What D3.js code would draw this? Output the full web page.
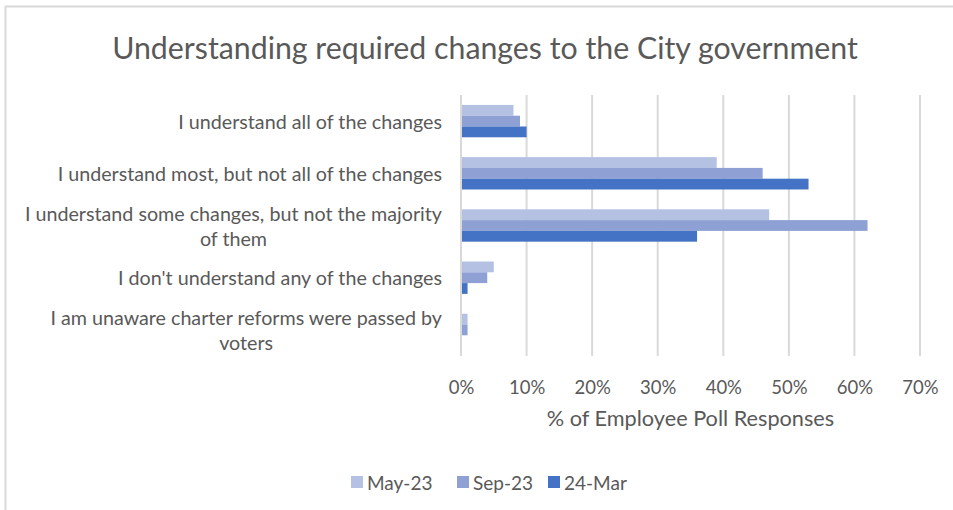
<!DOCTYPE html>
<html>
<head>
<meta charset="utf-8">
<script src="https://cdn.jsdelivr.net/npm/d3@7"></script>
<style>
  body { margin: 0; background: #fff; }
  text { font-family: Lato, "Open Sans", sans-serif; fill: #595959; }
</style>
</head>
<body>
<svg id="canvas" width="953" height="510"></svg>
<script>
// chart data
let categories = [
    ["I understand all of the changes"],
    ["I understand most, but not all of the changes"],
    ["I understand some changes, but not the majority", "of them"],
    ["I don't understand any of the changes"],
    ["I am unaware charter reforms were passed by", "voters"]
]
let seriesNames = ["May-23", "Sep-23", "24-Mar"]
let may23 = [8, 39, 47, 5, 1]
let sep23 = [9, 46, 62, 4, 1]
let mar24 = [10, 53, 36, 1, 0]
let xTicks = [0, 10, 20, 30, 40, 50, 60, 70]

let seriesValues = [may23, sep23, mar24]
let colors = ["#b4c1e3", "#8fa1d4", "#4472c4"]

let canvas = d3.select("#canvas")

// outer frame (right and bottom edges fall off the picture)
canvas.append("rect")
    .attr("x", 5.5).attr("y", 6.5)
    .attr("width", 970).attr("height", 530)
    .attr("fill", "none")
    .attr("stroke", "#d9d9d9")
    .attr("stroke-width", 2)

let plotLeft = 461, plotRight = 920, plotTop = 95, plotBottom = 356

let xScale = d3.scaleLinear()
    .domain([0, 70])
    .range([plotLeft, plotRight])

let yScale = d3.scaleBand()
    .domain(d3.range(categories.length))
    .range([plotTop, plotBottom])
    .paddingInner(0.38)
    .paddingOuter(0.19)

let subScale = d3.scaleBand()
    .domain(d3.range(seriesNames.length))
    .range([0, yScale.bandwidth()])

// title
canvas.append("text")
    .attr("x", 485).attr("y", 47)
    .attr("text-anchor", "middle")
    .attr("dominant-baseline", "central")
    .attr("font-size", "30.3px")
    .text("Understanding required changes to the City government")

// gridlines
canvas.append("g")
    .selectAll("line")
    .data(xTicks)
    .enter()
    .append("line")
    .attr("x1", (d) => xScale(d))
    .attr("x2", (d) => xScale(d))
    .attr("y1", plotTop)
    .attr("y2", plotBottom)
    .attr("stroke", "#d9d9d9")
    .attr("stroke-width", 2)

// bars
seriesValues.forEach((values, s) => {
    canvas.append("g")
        .selectAll("rect")
        .data(values)
        .enter()
        .append("rect")
        .attr("x", xScale(0) + 1)
        .attr("y", (d, i) => yScale(i) + subScale(s))
        .attr("width", (d) => Math.max(0, xScale(d) - xScale(0) - 1))
        .attr("height", subScale.bandwidth())
        .attr("fill", colors[s])
})

// x axis tick labels
let xAxis = d3.axisBottom(xScale)
    .tickValues(xTicks)
    .tickSize(0)
    .tickPadding(0)
    .tickFormat((d) => d + "%")

let axisG = canvas.append("g")
    .attr("transform", "translate(0," + 387 + ")")
    .call(xAxis)
axisG.select(".domain").remove()
axisG.selectAll("text")
    .attr("dy", null)
    .attr("y", 0)
    .attr("dominant-baseline", "central")
    .attr("font-size", "18.5px")
    .style("font-family", "Lato, 'Open Sans', sans-serif")
    .attr("fill", "#595959")

// x axis title
canvas.append("text")
    .attr("x", (plotLeft + plotRight) / 2).attr("y", 418)
    .attr("text-anchor", "middle")
    .attr("dominant-baseline", "central")
    .attr("font-size", "21.7px")
    .text("% of Employee Poll Responses")

// category labels: wrapped block, lines centered, block right aligned
let labelRight = 442
let lineHeight = 25
categories.forEach((lines, i) => {
    let g = canvas.append("g")
    let texts = g.selectAll("text")
        .data(lines)
        .enter()
        .append("text")
        .attr("font-size", "19.7px")
        .attr("dominant-baseline", "central")
        .text((d) => d)
    let widest = d3.max(texts.nodes(), (n) => n.getComputedTextLength())
    let centerY = yScale(i) + yScale.bandwidth() / 2
    texts
        .attr("text-anchor", "middle")
        .attr("x", labelRight - widest / 2)
        .attr("y", (d, j) => centerY + (j - (lines.length - 1) / 2) * lineHeight)
})

// legend
let legendX = [351, 457, 548]
let legend = canvas.append("g")
    .selectAll("g")
    .data(seriesNames)
    .enter()
    .append("g")
    .attr("transform", (d, i) => "translate(" + legendX[i] + ",482)")
legend.append("rect")
    .attr("x", 0).attr("y", -6)
    .attr("width", 12).attr("height", 12)
    .attr("fill", (d, i) => colors[i])
legend.append("text")
    .attr("x", 16)
    .attr("dominant-baseline", "central")
    .attr("font-size", "19px")
    .text((d) => d)
</script>
</body>
</html>
